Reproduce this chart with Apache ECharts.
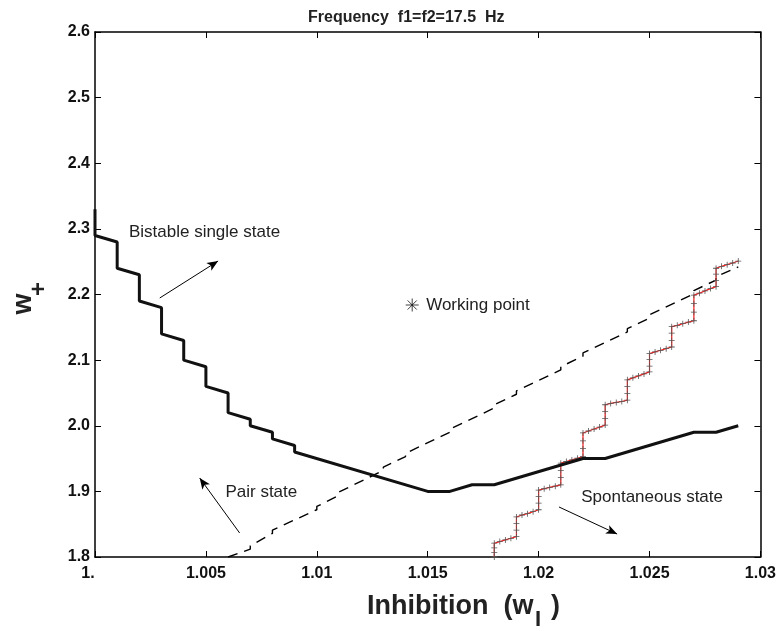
<!DOCTYPE html>
<html>
<head>
<meta charset="utf-8">
<script src="https://cdn.jsdelivr.net/npm/echarts@6/dist/echarts.min.js"></script>
<style>html,body{margin:0;padding:0;background:#fff}#c{width:779px;height:631px}</style>
</head>
<body>
<div id="c"></div>
<script>
// ---- tick labels ----
const xTickLabels = ['1.', '1.005', '1.01', '1.015', '1.02', '1.025', '1.03'];
const yTickLabels = ['1.8', '1.9', '2.0', '2.1', '2.2', '2.3', '2.4', '2.5', '2.6'];

// ---- Bistable single state boundary (solid) ----
const bistableX = [1.000,1.000,1.001,1.001,1.002,1.002,1.003,1.003,1.004,1.004,1.005,1.005,1.006,1.006,1.007,1.007,1.008,1.008,1.009,1.009,1.015,1.016,1.017,1.018,1.022,1.023,1.027,1.028,1.029];
const bistableY = [2.33,2.29,2.28,2.24,2.23,2.19,2.18,2.14,2.13,2.10,2.09,2.06,2.05,2.02,2.01,2.00,1.99,1.98,1.97,1.96,1.90,1.90,1.91,1.91,1.95,1.95,1.99,1.99,2.00];

// ---- Pair state boundary (dashed) ----
const pairX = [1.006,1.007,1.007,1.008,1.008,1.010,1.010,1.011,1.011,1.013,1.013,1.014,1.014,1.016,1.016,1.018,1.018,1.019,1.019,1.021,1.021,1.022,1.022,1.024,1.024,1.025,1.025,1.027,1.027,1.028,1.028,1.029];
const pairY = [1.800,1.812,1.817,1.836,1.841,1.872,1.877,1.894,1.899,1.932,1.937,1.953,1.958,1.990,1.995,2.027,2.032,2.048,2.053,2.085,2.090,2.106,2.111,2.143,2.148,2.164,2.169,2.201,2.206,2.222,2.227,2.242];

// ---- Spontaneous state boundary (red with + markers) ----
const spontX = [1.018,1.018,1.018,1.018,1.01825,1.0185,1.01875,
  1.019,1.019,1.019,1.019,1.01925,1.0195,1.01975,
  1.020,1.020,1.020,1.020,1.02025,1.0205,1.02075,
  1.021,1.021,1.021,1.021,1.02125,1.0215,1.02175,
  1.022,1.022,1.022,1.022,1.02225,1.0225,1.02275,
  1.023,1.023,1.023,1.023,1.02325,1.0235,1.02375,
  1.024,1.024,1.024,1.024,1.02425,1.0245,1.02475,
  1.025,1.025,1.025,1.025,1.02525,1.0255,1.02575,
  1.026,1.026,1.026,1.026,1.02625,1.0265,1.02675,
  1.027,1.027,1.027,1.027,1.02725,1.0275,1.02775,
  1.028,1.028,1.028,1.028,1.02825,1.0285,1.02875,
  1.029];
const spontY = [1.800,1.807,1.814,1.821,1.8235,1.826,1.8285,
  1.831,1.841,1.851,1.861,1.864,1.866,1.869,
  1.872,1.882,1.892,1.902,1.904,1.906,1.908,
  1.910,1.921,1.932,1.943,1.9455,1.948,1.9505,
  1.953,1.965,1.977,1.989,1.992,1.995,1.998,
  2.001,2.011,2.022,2.032,2.034,2.0355,2.037,
  2.039,2.049,2.060,2.070,2.073,2.076,2.079,
  2.082,2.091,2.101,2.110,2.1125,2.115,2.1175,
  2.120,2.130,2.141,2.151,2.153,2.1555,2.158,
  2.160,2.173,2.186,2.199,2.202,2.2055,2.209,
  2.212,2.221,2.231,2.240,2.243,2.2455,2.248,
  2.251];

// ---- Working point ----
const workingPoint = [1.0143, 2.184];

// ---- Annotations (data coordinates) ----
const annoTexts = [
  {text: 'Bistable single state', at: [1.00153, 2.2952]},
  {text: 'Pair state',            at: [1.00588, 1.8990]},
  {text: 'Spontaneous state',     at: [1.02192, 1.8904]},
  {text: 'Working point',         at: [1.01493, 2.1840]}
];
const annoArrows = [
  {from: [1.00292, 2.1947], to: [1.00555, 2.2510]},
  {from: [1.00652, 1.8366], to: [1.00472, 1.9204]},
  {from: [1.02092, 1.8762], to: [1.02354, 1.8350]}
];

const zip = (a, b) => a.map((v, i) => [v, b[i]]);
const FONT = '"Liberation Sans", Arial, Helvetica, sans-serif';
const X0 = 1.0, X1 = 1.03, XI = 0.005;
const Y0 = 1.8, Y1 = 2.6, YI = 0.1;

const chart = echarts.init(document.getElementById('c'), null, {renderer: 'canvas'});

const axisLineStyle = {color: '#000', width: 1.5};
const xBase = {type: 'value', min: X0, max: X1, interval: XI, splitLine: {show: false},
  axisLine: {show: true, onZero: false, lineStyle: axisLineStyle},
  axisTick: {show: true, inside: true, length: 6, lineStyle: {color: '#000', width: 1}}};
const yBase = {type: 'value', min: Y0, max: Y1, interval: YI, splitLine: {show: false},
  axisLine: {show: true, onZero: false, lineStyle: axisLineStyle},
  axisTick: {show: true, inside: true, length: 6, lineStyle: {color: '#000', width: 1}}};

const option = {
  animation: false,
  backgroundColor: '#fff',
  title: {text: 'Frequency  f1=f2=17.5  Hz', left: 303, top: 5,
    textStyle: {fontFamily: FONT, fontSize: 16, fontWeight: 'bold', color: '#222'}},
  grid: {left: 95, right: 17, top: 32, bottom: 74, containLabel: false},
  xAxis: [
    Object.assign({}, xBase, {position: 'bottom',
      axisLabel: {show: true, margin: 9, fontFamily: FONT, fontSize: 16, fontWeight: 'bold', color: '#111',
        rich: {first: {fontFamily: FONT, fontSize: 16, fontWeight: 'bold', color: '#111', padding: [0, 14, 0, 0]}},
        formatter: v => {
          const i = Math.round((v - X0) / XI);
          return i === 0 ? '{first|' + xTickLabels[0] + '}' : xTickLabels[i];
        }}}),
    Object.assign({}, xBase, {position: 'top', axisLabel: {show: false}})
  ],
  yAxis: [
    Object.assign({}, yBase, {position: 'left',
      axisLabel: {show: true, margin: 5, fontFamily: FONT, fontSize: 16, fontWeight: 'bold', color: '#111',
        formatter: v => yTickLabels[Math.round((v - Y0) / YI)]}}),
    Object.assign({}, yBase, {position: 'right', axisLabel: {show: false}})
  ],
  series: [
    {type: 'line', name: 'pair', data: zip(pairX, pairY), showSymbol: false, z: 3,
      lineStyle: {color: '#000', width: 1.4, type: [10, 7]}},
    {type: 'line', name: 'spont', data: zip(spontX, spontY), z: 4,
      symbol: 'path://M0,2.6H6V3.4H0Z M2.6,0H3.4V6H2.6Z', symbolSize: 6, showSymbol: true,
      itemStyle: {color: '#555'},
      lineStyle: {color: '#ff1a1a', width: 1.2}},
    {type: 'line', name: 'bistable', data: zip(bistableX, bistableY), showSymbol: false, z: 5,
      lineStyle: {color: '#111', width: 3}, silent: true,
      markLine: {silent: true, symbol: ['none', 'arrow'], symbolSize: [7, 11], animation: false,
        label: {show: false},
        lineStyle: {color: '#000', width: 1, type: 'solid'},
        data: annoArrows.map(a => [{coord: a.from}, {coord: a.to}])}},
    {type: 'scatter', name: 'working', data: [workingPoint], z: 6,
      symbol: 'path://M5,0V10M0,5H10M1.5,1.5L8.5,8.5M8.5,1.5L1.5,8.5', symbolSize: 13,
      itemStyle: {color: 'none', borderColor: '#111', borderWidth: 1}}
  ]
};
chart.setOption(option);

const graphics = annoTexts.map(a => {
  const p = chart.convertToPixel({xAxisIndex: 0, yAxisIndex: 0}, a.at);
  return {type: 'text', x: p[0], y: p[1], silent: true,
    style: {text: a.text, font: '17px ' + FONT, fill: '#222', textAlign: 'left', textVerticalAlign: 'middle'}};
});
// axis titles
graphics.push(
  {type: 'text', x: 367, y: 607, silent: true,
    style: {text: 'Inhibition  (w', font: 'bold 27px ' + FONT, fill: '#222', textAlign: 'left', textVerticalAlign: 'middle'}},
  {type: 'text', x: 535, y: 620, silent: true,
    style: {text: 'I', font: 'bold 22px ' + FONT, fill: '#222', textAlign: 'left', textVerticalAlign: 'middle'}},
  {type: 'text', x: 551, y: 607, silent: true,
    style: {text: ')', font: 'bold 27px ' + FONT, fill: '#222', textAlign: 'left', textVerticalAlign: 'middle'}},
  {type: 'text', x: 24, y: 304, rotation: Math.PI / 2, silent: true,
    style: {text: 'w', font: 'bold 27px ' + FONT, fill: '#222', textAlign: 'center', textVerticalAlign: 'middle'}},
  {type: 'text', x: 39, y: 289, rotation: Math.PI / 2, silent: true,
    style: {text: '+', font: 'bold 24px ' + FONT, fill: '#222', textAlign: 'center', textVerticalAlign: 'middle'}}
);
chart.setOption({graphic: graphics});
</script>
</body>
</html>
